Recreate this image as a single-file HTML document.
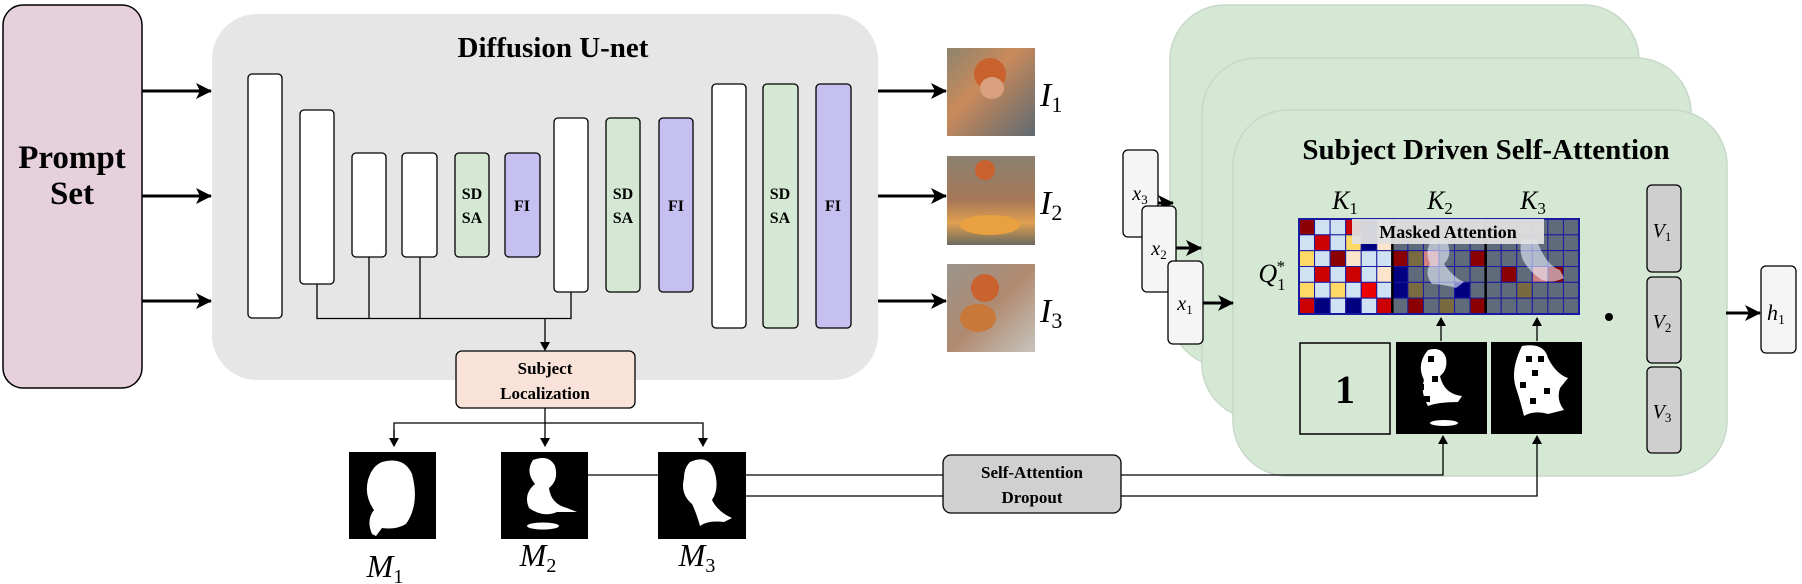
<!DOCTYPE html>
<html><head><meta charset="utf-8"><style>
html,body{margin:0;padding:0;background:#fff;}
body{width:1802px;height:584px;overflow:hidden;position:relative;}
svg{position:absolute;left:0;top:0;}
.b{font-family:"Liberation Serif",serif;font-weight:bold;}
.m{font-family:"Liberation Serif",serif;font-style:italic;}
</style></head><body>
<svg width="1802" height="584" viewBox="0 0 1802 584" xmlns="http://www.w3.org/2000/svg">
<defs>
<marker id="ah" markerWidth="16" markerHeight="16" refX="15" refY="8" orient="auto" markerUnits="userSpaceOnUse"><path d="M0,0 L16,8 L0,16 L4,8 z" fill="#000"/></marker>
<marker id="as" markerWidth="9" markerHeight="10" refX="8" refY="5" orient="auto" markerUnits="userSpaceOnUse"><path d="M0,0 L9,5 L0,10 z" fill="#000"/></marker>
<linearGradient id="g1" x1="0" y1="0" x2="1" y2="1"><stop offset="0" stop-color="#8c8470"/><stop offset=".4" stop-color="#c98a5a"/><stop offset="1" stop-color="#5f6a72"/></linearGradient>
<linearGradient id="g2" x1="0" y1="0" x2="0" y2="1"><stop offset="0" stop-color="#8a8070"/><stop offset=".5" stop-color="#a87858"/><stop offset=".75" stop-color="#e0a050"/><stop offset="1" stop-color="#6a6a60"/></linearGradient>
<linearGradient id="g3" x1="0" y1="0" x2="1" y2="1"><stop offset="0" stop-color="#9a948c"/><stop offset=".5" stop-color="#b08a70"/><stop offset="1" stop-color="#c8c4bc"/></linearGradient>
</defs>

<!-- Prompt set -->
<rect x="3" y="5" width="139" height="383" rx="20" fill="#e6d0dc" stroke="#000" stroke-width="1.5"/>
<text class="b" x="72" y="168" font-size="33" text-anchor="middle">Prompt</text>
<text class="b" x="72" y="204" font-size="33" text-anchor="middle">Set</text>

<g stroke="#000" stroke-width="3">
<line x1="142" y1="91" x2="211" y2="91" marker-end="url(#ah)"/>
<line x1="142" y1="196" x2="211" y2="196" marker-end="url(#ah)"/>
<line x1="142" y1="301" x2="211" y2="301" marker-end="url(#ah)"/>
</g>

<!-- Unet -->
<rect x="212" y="14" width="666" height="366" rx="45" fill="#e6e6e6"/>
<text class="b" x="553" y="57" font-size="29" text-anchor="middle">Diffusion U-net</text>
<g stroke="#000" stroke-width="1.3">
<rect x="248" y="74" width="34" height="244" rx="4" fill="#fff"/>
<rect x="300" y="110" width="34" height="174" rx="4" fill="#fff"/>
<rect x="352" y="153" width="34" height="104" rx="4" fill="#fff"/>
<rect x="402" y="153" width="35" height="104" rx="4" fill="#fff"/>
<rect x="455" y="153" width="34" height="104" rx="4" fill="#d5e8d4"/>
<rect x="505" y="153" width="35" height="104" rx="4" fill="#c6c0f0"/>
<rect x="554" y="118" width="34" height="174" rx="4" fill="#fff"/>
<rect x="606" y="118" width="34" height="174" rx="4" fill="#d5e8d4"/>
<rect x="659" y="118" width="34" height="174" rx="4" fill="#c6c0f0"/>
<rect x="712" y="84" width="34" height="244" rx="4" fill="#fff"/>
<rect x="763" y="84" width="35" height="244" rx="4" fill="#d5e8d4"/>
<rect x="816" y="84" width="35" height="244" rx="4" fill="#c6c0f0"/>
</g>
<g class="b" font-size="16" text-anchor="middle">
<text x="472" y="199">SD</text><text x="472" y="223">SA</text><text x="522" y="211">FI</text>
<text x="623" y="199">SD</text><text x="623" y="223">SA</text><text x="676" y="211">FI</text>
<text x="780" y="199">SD</text><text x="780" y="223">SA</text><text x="833" y="211">FI</text>
</g>
<g stroke="#000" stroke-width="1.3" fill="none">
<polyline points="317,284 317,318.5 571,318.5 571,292"/>
<line x1="369" y1="257" x2="369" y2="318"/>
<line x1="420" y1="257" x2="420" y2="318"/>
<line x1="545" y1="318" x2="545" y2="350" marker-end="url(#as)"/>
</g>
<rect x="456" y="351" width="179" height="57" rx="6" fill="#f9e2d8" stroke="#000" stroke-width="1.3"/>
<text class="b" x="545" y="374" font-size="17" text-anchor="middle">Subject</text>
<text class="b" x="545" y="399" font-size="17" text-anchor="middle">Localization</text>
<g stroke="#000" stroke-width="1.3" fill="none">
<line x1="545" y1="408" x2="545" y2="446" marker-end="url(#as)"/>
<polyline points="394,446 394,423 703,423 703,446" marker-end="url(#as)"/>
<line x1="394" y1="430" x2="394" y2="446" marker-end="url(#as)"/>
</g>

<!-- masks M -->
<rect x="349" y="452" width="87" height="87" fill="#000"/>
<path d="M382,462 q22,-6 30,12 q8,30 -6,50 q-10,6 -24,4 l-6,8 -4,-2 q-6,-14 2,-24 q-10,-14 -6,-30 q4,-14 14,-18z" fill="#fff"/>
<rect x="501" y="452" width="87" height="87" fill="#000"/>
<path d="M533,460 q16,-6 22,6 q4,14 -6,22 q2,16 18,20 l10,4 -20,0 q-14,6 -28,-4 q-6,-14 6,-24 q-10,-12 -2,-24z" fill="#fff"/>
<ellipse cx="543" cy="526" rx="16" ry="3.5" fill="#fff"/>
<rect x="658" y="452" width="88" height="87" fill="#000"/>
<path d="M690,462 q18,-8 24,8 q6,18 -2,30 q6,12 20,18 l-8,4 q-16,-2 -24,4 q-4,-14 -8,-22 q-12,-10 -8,-26 q0,-10 6,-16z" fill="#fff"/>
<g class="m" font-size="32" text-anchor="middle">
<text x="385" y="577">M<tspan font-size="20" font-style="normal" dy="6">1</tspan></text>
<text x="538" y="566">M<tspan font-size="20" font-style="normal" dy="6">2</tspan></text>
<text x="697" y="566">M<tspan font-size="20" font-style="normal" dy="6">3</tspan></text>
</g>

<!-- unet -> images -->
<g stroke="#000" stroke-width="3">
<line x1="878" y1="91" x2="946" y2="91" marker-end="url(#ah)"/>
<line x1="878" y1="196" x2="946" y2="196" marker-end="url(#ah)"/>
<line x1="878" y1="301" x2="946" y2="301" marker-end="url(#ah)"/>
</g>
<rect x="947" y="48" width="88" height="88" fill="url(#g1)"/>
<circle cx="990" cy="74" r="16" fill="#c9622e"/><ellipse cx="992" cy="88" rx="12" ry="11" fill="#d9a080"/>
<rect x="947" y="156" width="88" height="89" fill="url(#g2)"/>
<circle cx="985" cy="170" r="10" fill="#c9622e"/><ellipse cx="990" cy="225" rx="30" ry="10" fill="#e8a040"/>
<rect x="947" y="264" width="88" height="88" fill="url(#g3)"/>
<circle cx="985" cy="288" r="14" fill="#c9622e"/><ellipse cx="978" cy="318" rx="18" ry="14" fill="#c87838"/>
<g class="m" font-size="34">
<text x="1040" y="106">I<tspan font-size="22" font-style="normal" dy="6">1</tspan></text>
<text x="1040" y="214">I<tspan font-size="22" font-style="normal" dy="6">2</tspan></text>
<text x="1040" y="322">I<tspan font-size="22" font-style="normal" dy="6">3</tspan></text>
</g>

<!-- green panels -->
<rect x="1170" y="5" width="469" height="362" rx="55" fill="#d5e8d4" stroke="#c8d8c8" stroke-width="1.5"/>
<rect x="1202" y="58" width="489" height="361" rx="55" fill="#d5e8d4" stroke="#c8d8c8" stroke-width="1.5"/>
<rect x="1233" y="110" width="494" height="366" rx="55" fill="#d5e8d4" stroke="#c8d8c8" stroke-width="1.5"/>
<text class="b" x="1486" y="159" font-size="29" text-anchor="middle">Subject Driven Self-Attention</text>

<!-- dropout connectors -->
<g stroke="#000" stroke-width="1.3" fill="none">
<line x1="588" y1="475" x2="658" y2="475"/>
<line x1="746" y1="475" x2="943" y2="475"/>
<line x1="746" y1="496" x2="943" y2="496"/>
<polyline points="1121,475 1443,475 1443,436" marker-end="url(#as)"/>
<polyline points="1121,496 1537,496 1537,436" marker-end="url(#as)"/>
</g>
<rect x="943" y="455" width="178" height="58" rx="8" fill="#d0d0d0" stroke="#000" stroke-width="1.3"/>
<text class="b" x="1032" y="478" font-size="17" text-anchor="middle">Self-Attention</text>
<text class="b" x="1032" y="503" font-size="17" text-anchor="middle">Dropout</text>

<!-- x boxes -->
<g stroke="#000" stroke-width="3">
<line x1="1158" y1="203" x2="1173" y2="203" marker-end="url(#ah)"/>
<line x1="1176" y1="248" x2="1201" y2="248" marker-end="url(#ah)"/>
<line x1="1203" y1="303" x2="1233" y2="303" marker-end="url(#ah)"/>
</g>
<g stroke="#000" stroke-width="1.3" fill="#f5f5f5">
<rect x="1123" y="150" width="35" height="87" rx="5"/>
<rect x="1142" y="206" width="34" height="86" rx="5"/>
<rect x="1168" y="261" width="35" height="83" rx="5"/>
</g>
<g class="m" font-size="20" text-anchor="middle">
<text x="1140" y="200">x<tspan font-size="13" font-style="normal" dy="4">3</tspan></text>
<text x="1159" y="255">x<tspan font-size="13" font-style="normal" dy="4">2</tspan></text>
<text x="1185" y="310">x<tspan font-size="13" font-style="normal" dy="4">1</tspan></text>
</g>

<!-- grid -->
<g id="grid"></g>
<g fill="#e8f0ff" opacity="0.6">
<path d="M1432,240 q10,-6 16,4 q4,12 -4,20 q10,14 20,18 l-8,6 q-14,-4 -24,-4 q-8,-10 -2,-20 q-6,-14 2,-24z"/>
<path d="M1522,240 q14,-4 18,8 q8,18 20,22 l4,8 q-12,6 -22,2 q-12,-8 -18,-18 q-6,-12 -2,-22z"/>
</g>
<rect x="1352" y="219" width="192" height="25" fill="#e0e0e0" opacity="0.95"/>
<text class="b" x="1448" y="238" font-size="18" text-anchor="middle">Masked Attention</text>
<g class="m" font-size="26" text-anchor="middle">
<text x="1345" y="209">K<tspan font-size="17" font-style="normal" dy="5">1</tspan></text>
<text x="1440" y="209">K<tspan font-size="17" font-style="normal" dy="5">2</tspan></text>
<text x="1533" y="209">K<tspan font-size="17" font-style="normal" dy="5">3</tspan></text>
<text x="1272" y="282">Q<tspan font-size="17" font-style="normal" dy="8">1</tspan><tspan font-size="17" font-style="normal" dx="-9" dy="-18">*</tspan></text>
</g>
<circle cx="1609" cy="317" r="4" fill="#000"/>

<!-- bottom masks -->
<rect x="1300" y="343" width="90" height="91" fill="none" stroke="#000" stroke-width="1.5"/>
<text x="1345" y="403" font-family="Liberation Serif,serif" font-weight="bold" font-size="40" text-anchor="middle">1</text>
<rect x="1396" y="342" width="91" height="92" fill="#000"/>
<path d="M1428,350 q14,-4 18,8 q2,12 -6,18 q4,18 22,20 l-4,6 q-20,0 -30,4 q-8,-14 -4,-26 q-8,-16 4,-30z" fill="#fff"/>
<ellipse cx="1444" cy="423" rx="14" ry="3" fill="#fff"/>
<rect x="1491" y="342" width="91" height="92" fill="#000"/>
<path d="M1522,346 q22,-4 26,12 q8,16 20,20 l-8,10 q-4,12 4,22 l-16,4 q-14,-4 -24,2 q-4,-16 -8,-28 q-6,-18 6,-42z" fill="#fff"/>
<g fill="#000">
<rect x="1428" y="356" width="6" height="6"/><rect x="1418" y="384" width="6" height="6"/><rect x="1432" y="376" width="6" height="6"/><rect x="1424" y="396" width="6" height="6"/>
<rect x="1526" y="356" width="6" height="6"/><rect x="1538" y="356" width="6" height="6"/><rect x="1532" y="370" width="6" height="6"/><rect x="1520" y="382" width="6" height="6"/><rect x="1544" y="388" width="6" height="6"/><rect x="1530" y="398" width="6" height="6"/>
</g>
<g stroke="#000" stroke-width="1.3">
<line x1="1441" y1="341" x2="1441" y2="318" marker-end="url(#as)"/>
<line x1="1537" y1="341" x2="1537" y2="318" marker-end="url(#as)"/>
</g>

<!-- V boxes -->
<g stroke="#000" stroke-width="1.3" fill="#cfcfcf">
<rect x="1647" y="185" width="34" height="87" rx="5"/>
<rect x="1647" y="277" width="34" height="86" rx="5"/>
<rect x="1647" y="367" width="34" height="86" rx="5"/>
</g>
<g class="m" font-size="20" text-anchor="middle">
<text x="1662" y="237">V<tspan font-size="13" font-style="normal" dy="4">1</tspan></text>
<text x="1662" y="328">V<tspan font-size="13" font-style="normal" dy="4">2</tspan></text>
<text x="1662" y="418">V<tspan font-size="13" font-style="normal" dy="4">3</tspan></text>
</g>
<line x1="1726" y1="313" x2="1760" y2="313" stroke="#000" stroke-width="3" marker-end="url(#ah)"/>
<rect x="1761" y="266" width="35" height="87" rx="5" fill="#f5f5f5" stroke="#000" stroke-width="1.3"/>
<text class="m" x="1776" y="320" font-size="22" text-anchor="middle">h<tspan font-size="14" font-style="normal" dy="4">1</tspan></text>
</svg>
<script>
(function(){
var C={D:"#8b0000",L:"#cfe2f3",R:"#cc0000",N:"#000080",Y:"#ffd966",P:"#fde5cc",E:"#ee0000",G:"#5f6b7a",B:"#7a6a40",K:"#d08080"};
var rows=["DLLRNP"+"GGGGGG"+"GGGGGG",
"LRLYNP"+"GGGGGG"+"GGGGGG",
"YLDPLL"+"DBKGGD"+"GGGGGG",
"LRLRLP"+"NGGGGG"+"GDGKDG",
"YLYLEL"+"NBGGNG"+"GGBGGG",
"RNLNLR"+"GDGBGD"+"GGGGGG"];
var g=document.getElementById("grid"),ns="http://www.w3.org/2000/svg";
var x0=1299,y0=219,w=280/18,h=95/6;
for(var r=0;r<6;r++)for(var c=0;c<18;c++){var e=document.createElementNS(ns,"rect");
e.setAttribute("x",x0+c*w);e.setAttribute("y",y0+r*h);e.setAttribute("width",w);e.setAttribute("height",h);
e.setAttribute("fill",C[rows[r][c]]);e.setAttribute("stroke","#1a1aa0");e.setAttribute("stroke-width","1");g.appendChild(e);}
[x0+6*w,x0+12*w].forEach(function(x){var l=document.createElementNS(ns,"line");l.setAttribute("x1",x);l.setAttribute("x2",x);l.setAttribute("y1",y0);l.setAttribute("y2",y0+95);l.setAttribute("stroke","#000");l.setAttribute("stroke-width","2.5");g.appendChild(l);});
var o=document.createElementNS(ns,"rect");o.setAttribute("x",x0);o.setAttribute("y",y0);o.setAttribute("width",280);o.setAttribute("height",95);o.setAttribute("fill","none");o.setAttribute("stroke","#1a1aa0");o.setAttribute("stroke-width","2");g.appendChild(o);
})();
</script>
</body></html>
